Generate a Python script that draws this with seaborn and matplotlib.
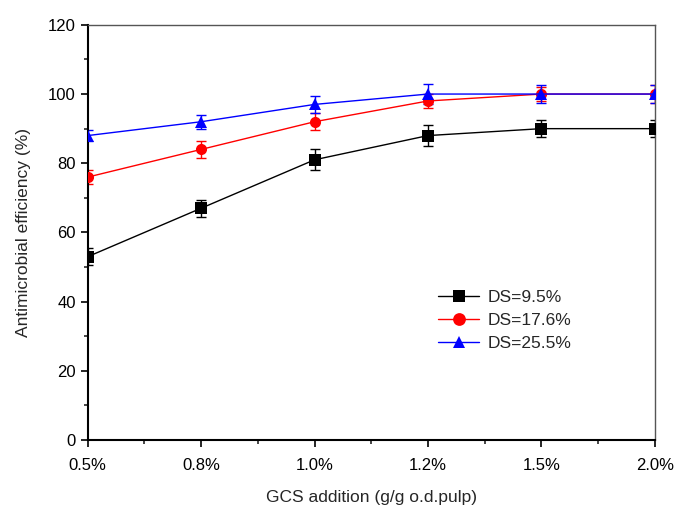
import numpy as np
import pandas as pd
import matplotlib
matplotlib.use("Agg")
import matplotlib.pyplot as plt
import seaborn as sns
from matplotlib.ticker import MultipleLocator

# Data
doses = ["0.5%", "0.8%", "1.0%", "1.2%", "1.5%", "2.0%"]
series_names = ["DS=9.5%", "DS=17.6%", "DS=25.5%"]
eff_95 = [53, 67, 81, 88, 90, 90]
eff_176 = [76, 84, 92, 98, 100, 100]
eff_255 = [88, 92, 97, 100, 100, 100]
err_95 = [2.5, 2.5, 3, 3, 2.5, 2.5]
err_176 = [2, 2.5, 2.5, 2, 2, 2.5]
err_255 = [1.5, 2, 2.5, 3, 2.5, 2.5]

colors = ["black", "red", "blue"]
markers = ["s", "o", "^"]

values = [eff_95, eff_176, eff_255]
errors = [err_95, err_176, err_255]

rows = []
for name, vals, errs in zip(series_names, values, errors):
    for i, (v, e) in enumerate(zip(vals, errs)):
        rows.append({"pos": i, "dose": doses[i], "series": name, "eff": v, "err": e})
df = pd.DataFrame(rows)

sns.set_style("ticks")
plt.rcParams["font.family"] = ["Liberation Sans", "DejaVu Sans"]

fig = plt.figure(figsize=(6.75, 5.07), dpi=100)
ax = fig.add_axes([0.130, 0.132, 0.840, 0.819])

for name, c, m in zip(series_names, colors, markers):
    sub = df[df["series"] == name]
    ax.errorbar(sub["pos"], sub["eff"], yerr=sub["err"], fmt="none",
                ecolor=c, elinewidth=1, capsize=3.5, capthick=1, zorder=2)

sns.lineplot(data=df, x="pos", y="eff", hue="series", style="series",
             palette=colors, markers=markers, dashes=False, markersize=8,
             markeredgewidth=0, linewidth=1, ax=ax, zorder=3)

ax.set_xlim(0, 5)
ax.set_ylim(0, 120)
ax.set_xticks(range(len(doses)))
ax.set_xticklabels(doses)
ax.xaxis.set_minor_locator(MultipleLocator(0.5))
ax.yaxis.set_major_locator(MultipleLocator(20))
ax.yaxis.set_minor_locator(MultipleLocator(10))
ax.tick_params(axis="both", which="major", direction="out", length=5, width=1.2,
               labelsize=12, colors="black")
ax.tick_params(axis="both", which="minor", direction="out", length=3, width=1.2)
ax.tick_params(axis="x", pad=8)

for side in ["left", "bottom"]:
    ax.spines[side].set_linewidth(1.5)
    ax.spines[side].set_color("black")
for side in ["top", "right"]:
    ax.spines[side].set_visible(True)
    ax.spines[side].set_linewidth(1)
    ax.spines[side].set_color("#555555")

ax.set_xlabel("GCS addition (g/g o.d.pulp)", fontsize=12.5, labelpad=12)
ax.set_ylabel("Antimicrobial efficiency (%)", fontsize=12.5, labelpad=12)

ax.legend(title=None, frameon=False, loc="upper left",
          bbox_to_anchor=(0.605, 0.378), fontsize=12.5, handlelength=2.4,
          handletextpad=0.45, labelspacing=0.45, borderaxespad=0,
          markerscale=1.15)

fig.savefig("out.png", dpi=100)
